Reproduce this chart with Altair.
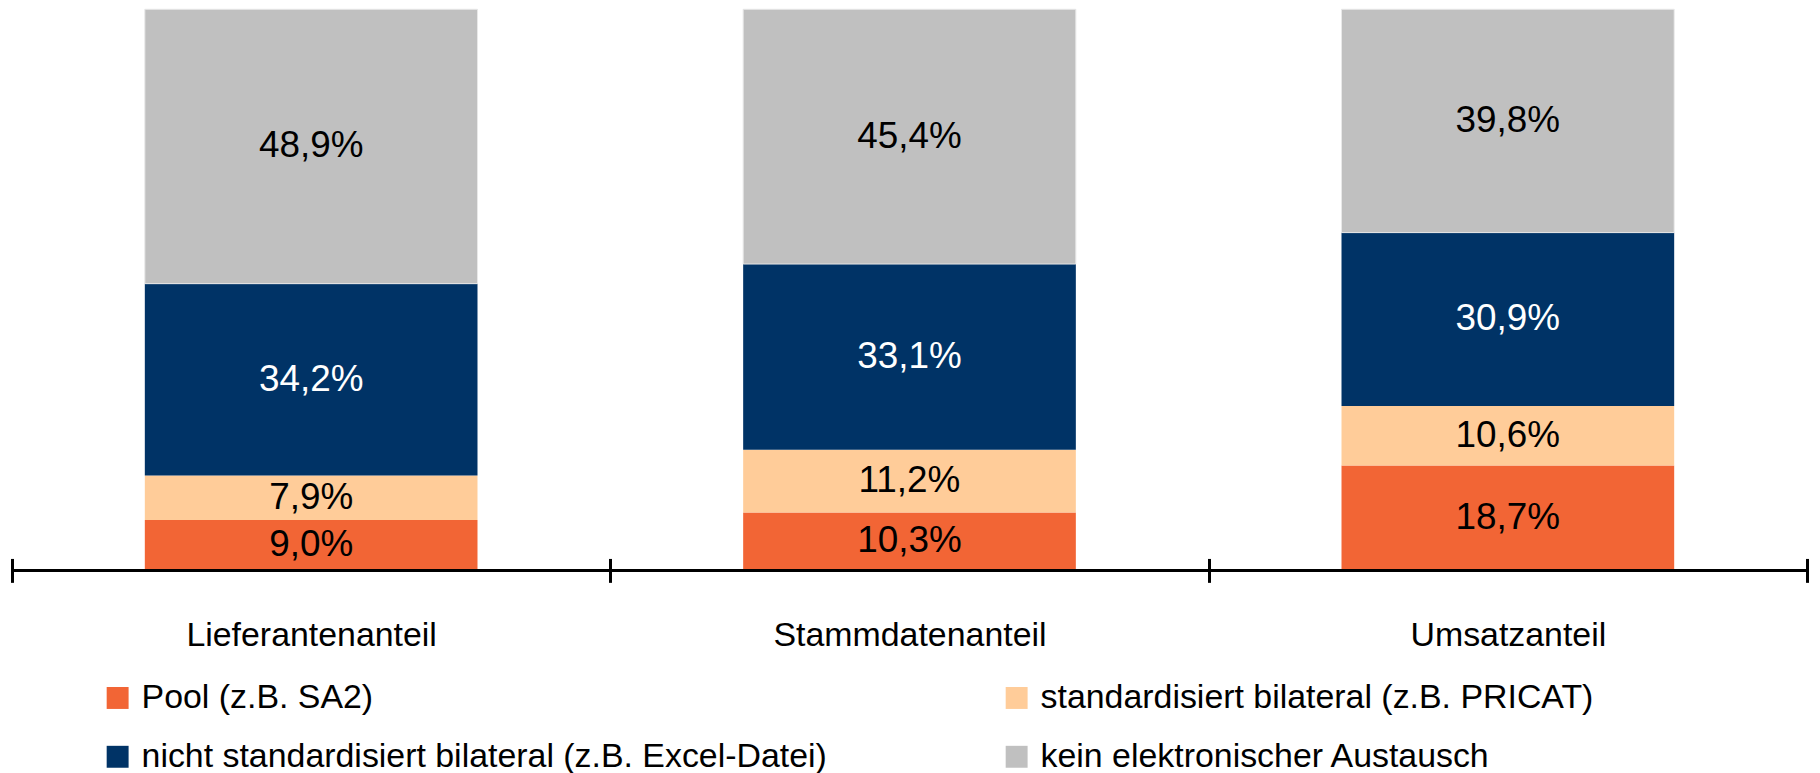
import altair as alt
import pandas as pd

categories = ["Lieferantenanteil", "Stammdatenanteil", "Umsatzanteil"]
series = [
    "Pool (z.B. SA2)",
    "standardisiert bilateral (z.B. PRICAT)",
    "nicht standardisiert bilateral (z.B. Excel-Datei)",
    "kein elektronischer Austausch",
]
pool = [9.0, 10.3, 18.7]
std_bilateral = [7.9, 11.2, 10.6]
non_std_bilateral = [34.2, 33.1, 30.9]
no_exchange = [48.9, 45.4, 39.8]
colors = ["#F26535", "#FFCC99", "#003366", "#C0C0C0"]

FONT = "Liberation Sans"

rows = []
for si, (s, vals) in enumerate(zip(series, [pool, std_bilateral, non_std_bilateral, no_exchange])):
    for c, v in zip(categories, vals):
        rows.append({"category": c, "series": s, "order": si, "value": v,
                     "label": f"{v:.1f}%".replace(".", ",")})
df = pd.DataFrame(rows)

xscale = alt.Scale(paddingInner=0, paddingOuter=0)
yscale = alt.Scale(domain=[0, 100], nice=False)

x_axis = alt.Axis(
    tickBand="extent", domain=False, offset=-12, ticks=True, tickSize=24, tickWidth=3,
    tickColor="black", labelFontSize=34, labelFont=FONT, labelColor="black",
    labelPadding=36, labelAngle=0, labelLimit=1000, title=None,
)

base = alt.Chart(df)

bars = base.mark_bar(width=alt.RelativeBandSize(0.556), strokeWidth=1).encode(
    x=alt.X("category:N", sort=categories, scale=xscale, axis=x_axis),
    y=alt.Y("value:Q", stack="zero", scale=yscale, axis=None),
    color=alt.Color(
        "series:N", sort=series, scale=alt.Scale(domain=series, range=colors),
        legend=alt.Legend(
            title=None, orient="none", legendX=89, legendY=674, direction="horizontal",
            columns=2, columnPadding=173, rowPadding=25, symbolType="square",
            symbolSize=484, symbolStrokeWidth=0, labelFontSize=34, labelFont=FONT,
            labelColor="black", labelOffset=7, labelLimit=1000,
        ),
    ),
    stroke=alt.condition(alt.datum.order == 3, alt.value("#E8E8E8"), alt.value("transparent")),
    order=alt.Order("order:Q"),
)

labels = base.transform_stack(
    stack="value", groupby=["category"], as_=["y0", "y1"],
    sort=[alt.SortField("order", "ascending")],
).transform_calculate(mid="(datum.y0 + datum.y1) / 2").mark_text(
    fontSize=37, font=FONT, baseline="middle", align="center"
).encode(
    x=alt.X("category:N", sort=categories, scale=xscale),
    y=alt.Y("mid:Q", scale=yscale),
    text="label:N",
    color=alt.condition(alt.datum.order == 2, alt.value("white"), alt.value("black")),
)

domain_line = base.mark_rule(color="black", strokeWidth=3).encode(y=alt.datum(0))

chart = alt.layer(bars, labels, domain_line).properties(
    width=1801, height=563,
    autosize=alt.AutoSizeParams(type="none"),
    padding={"left": 4, "top": 0, "right": 5, "bottom": 202},
    background="white",
).configure_view(stroke=None)

chart.save("out.html", embed_options={"renderer": "svg", "actions": False})
